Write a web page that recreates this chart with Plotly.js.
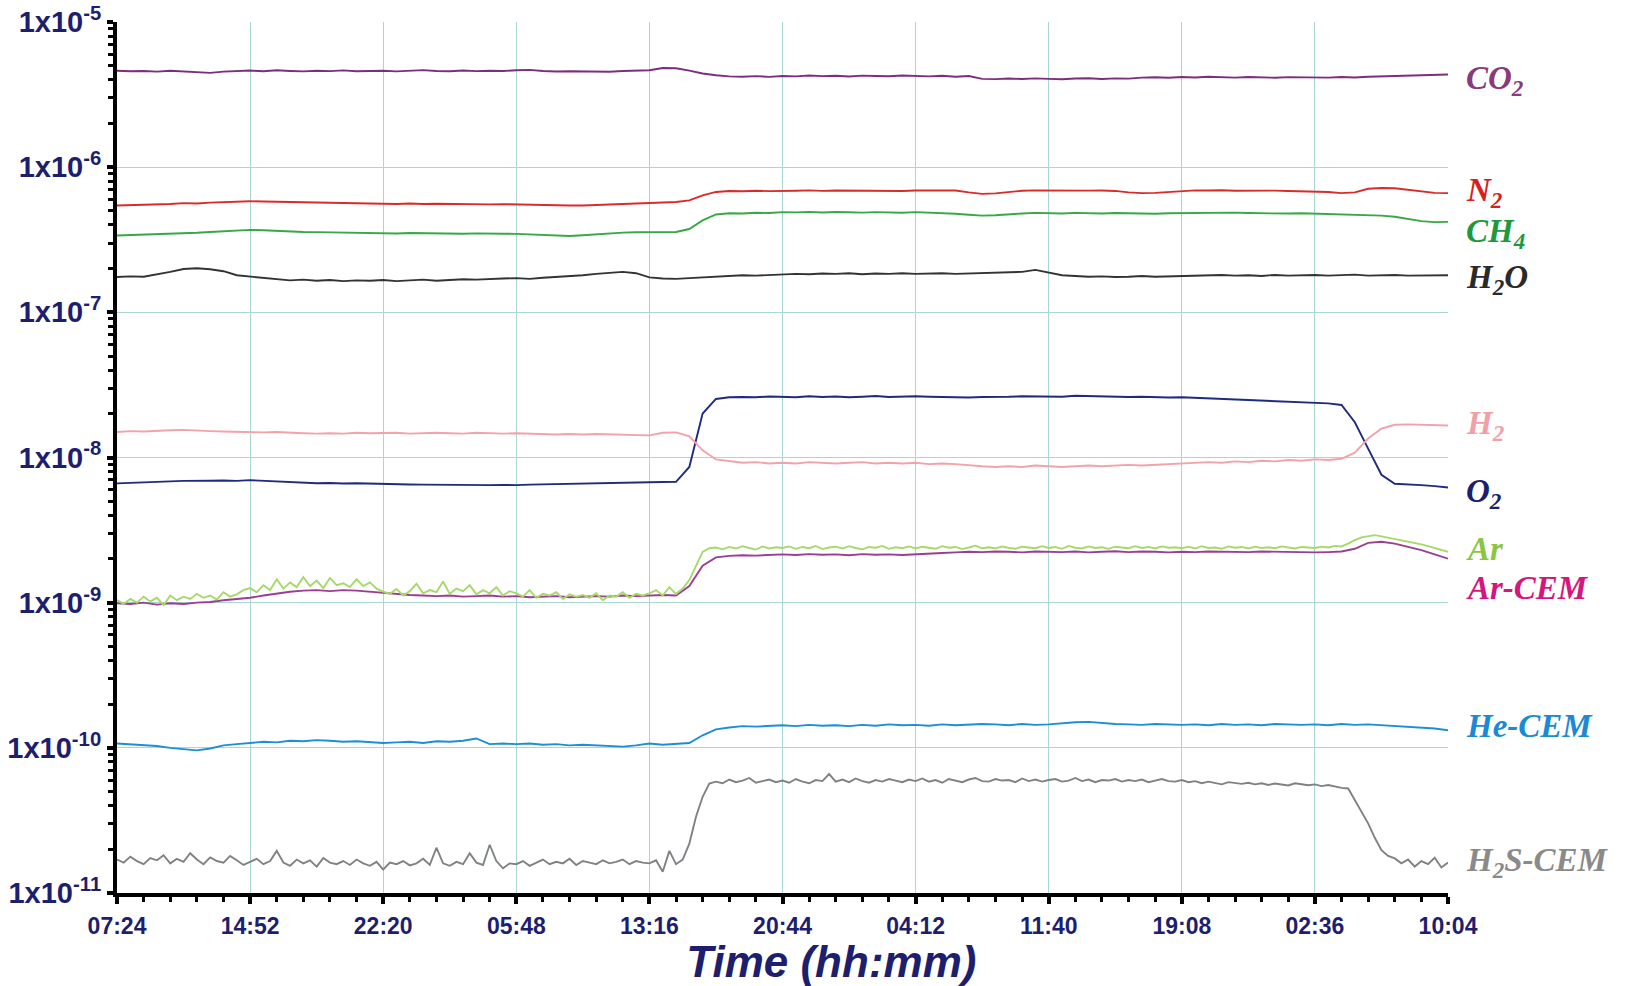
<!DOCTYPE html>
<html>
<head>
<meta charset="utf-8">
<script src="https://cdn.plot.ly/plotly-3.0.1.min.js"></script>
<style>
  html, body { margin: 0; padding: 0; background: #ffffff; }
  #chart { width: 1646px; height: 986px; }
</style>
</head>
<body>
<div id="chart"></div>
<script>
// ---------- DATA ----------
// coarse series: one sample every 44.8 min (1/10 of a 7h28m tick interval), from 07:24
// fine (noisy) series: one sample every 22.4 min
const sampleStepMin = 44.8;
const fineStepMin = 22.4;

const xTickLabels = ['07:24', '14:52', '22:20', '05:48', '13:16', '20:44', '04:12', '11:40', '19:08', '02:36', '10:04'];
const yTickVals = [1e-11, 1e-10, 1e-9, 1e-8, 1e-7, 1e-6, 1e-5];
const yTickLabels = ['1x10<sup>-11</sup>', '1x10<sup>-10</sup>', '1x10<sup>-9</sup>', '1x10<sup>-8</sup>', '1x10<sup>-7</sup>', '1x10<sup>-6</sup>', '1x10<sup>-5</sup>'];

const co2 = [
  4.62e-6,4.58e-6,4.60e-6,4.55e-6,4.61e-6,4.57e-6,4.52e-6,4.46e-6,4.55e-6,4.60e-6,
  4.63e-6,4.58e-6,4.65e-6,4.60e-6,4.57e-6,4.62e-6,4.59e-6,4.64e-6,4.58e-6,4.60e-6,
  4.62e-6,4.57e-6,4.61e-6,4.66e-6,4.60e-6,4.58e-6,4.63e-6,4.59e-6,4.62e-6,4.60e-6,
  4.65e-6,4.68e-6,4.60e-6,4.56e-6,4.58e-6,4.55e-6,4.57e-6,4.54e-6,4.60e-6,4.62e-6,
  4.65e-6,4.82e-6,4.80e-6,4.62e-6,4.42e-6,4.30e-6,4.22e-6,4.20e-6,4.24e-6,4.19e-6,
  4.25e-6,4.22e-6,4.28e-6,4.24e-6,4.26e-6,4.21e-6,4.27e-6,4.25e-6,4.23e-6,4.28e-6,
  4.24e-6,4.22e-6,4.26e-6,4.20e-6,4.25e-6,4.06e-6,4.04e-6,4.08e-6,4.05e-6,4.09e-6,
  4.06e-6,4.03e-6,4.08e-6,4.10e-6,4.05e-6,4.09e-6,4.07e-6,4.14e-6,4.16e-6,4.13e-6,
  4.18e-6,4.15e-6,4.20e-6,4.16e-6,4.14e-6,4.18e-6,4.15e-6,4.13e-6,4.17e-6,4.15e-6,
  4.16e-6,4.14e-6,4.18e-6,4.15e-6,4.20e-6,4.22e-6,4.25e-6,4.24e-6,4.28e-6,4.32e-6,
  4.35e-6];

const n2 = [
  5.45e-7,5.48e-7,5.50e-7,5.52e-7,5.58e-7,5.65e-7,5.62e-7,5.70e-7,5.75e-7,5.78e-7,
  5.83e-7,5.80e-7,5.78e-7,5.75e-7,5.72e-7,5.70e-7,5.68e-7,5.65e-7,5.63e-7,5.60e-7,
  5.60e-7,5.58e-7,5.62e-7,5.57e-7,5.60e-7,5.58e-7,5.55e-7,5.57e-7,5.54e-7,5.56e-7,
  5.53e-7,5.50e-7,5.48e-7,5.46e-7,5.45e-7,5.45e-7,5.50e-7,5.55e-7,5.60e-7,5.65e-7,
  5.72e-7,5.74e-7,5.76e-7,5.90e-7,6.40e-7,6.75e-7,6.85e-7,6.82e-7,6.88e-7,6.84e-7,
  6.90e-7,6.88e-7,6.92e-7,6.87e-7,6.91e-7,6.89e-7,6.93e-7,6.88e-7,6.90e-7,6.86e-7,
  6.91e-7,6.88e-7,6.85e-7,6.90e-7,6.70e-7,6.55e-7,6.60e-7,6.75e-7,6.88e-7,6.92e-7,
  6.90e-7,6.87e-7,6.92e-7,6.89e-7,6.90e-7,6.86e-7,6.70e-7,6.62e-7,6.65e-7,6.75e-7,
  6.88e-7,6.92e-7,6.90e-7,6.94e-7,6.88e-7,6.91e-7,6.86e-7,6.89e-7,6.85e-7,6.83e-7,
  6.80e-7,6.75e-7,6.62e-7,6.70e-7,7.10e-7,7.18e-7,7.15e-7,7.00e-7,6.80e-7,6.65e-7,
  6.62e-7];

const ch4 = [
  3.38e-7,3.40e-7,3.42e-7,3.44e-7,3.47e-7,3.51e-7,3.53e-7,3.58e-7,3.62e-7,3.66e-7,
  3.70e-7,3.68e-7,3.64e-7,3.60e-7,3.58e-7,3.57e-7,3.55e-7,3.53e-7,3.52e-7,3.51e-7,
  3.51e-7,3.49e-7,3.52e-7,3.50e-7,3.51e-7,3.49e-7,3.48e-7,3.50e-7,3.47e-7,3.48e-7,
  3.47e-7,3.45e-7,3.42e-7,3.38e-7,3.36e-7,3.40e-7,3.45e-7,3.50e-7,3.54e-7,3.56e-7,
  3.57e-7,3.57e-7,3.58e-7,3.75e-7,4.30e-7,4.72e-7,4.82e-7,4.80e-7,4.85e-7,4.83e-7,
  4.90e-7,4.88e-7,4.92e-7,4.87e-7,4.91e-7,4.89e-7,4.86e-7,4.90e-7,4.88e-7,4.85e-7,
  4.90e-7,4.87e-7,4.82e-7,4.78e-7,4.70e-7,4.64e-7,4.66e-7,4.74e-7,4.80e-7,4.84e-7,
  4.82e-7,4.80e-7,4.84e-7,4.81e-7,4.79e-7,4.83e-7,4.80e-7,4.82e-7,4.78e-7,4.81e-7,
  4.82e-7,4.85e-7,4.87e-7,4.84e-7,4.86e-7,4.83e-7,4.80e-7,4.82e-7,4.79e-7,4.81e-7,
  4.78e-7,4.76e-7,4.74e-7,4.72e-7,4.70e-7,4.64e-7,4.55e-7,4.40e-7,4.25e-7,4.18e-7,
  4.20e-7];

const h2o = [
  1.75e-7,1.77e-7,1.76e-7,1.82e-7,1.90e-7,1.99e-7,2.01e-7,1.98e-7,1.92e-7,1.80e-7,
  1.76e-7,1.73e-7,1.70e-7,1.66e-7,1.68e-7,1.65e-7,1.67e-7,1.64e-7,1.66e-7,1.65e-7,
  1.67e-7,1.64e-7,1.66e-7,1.68e-7,1.65e-7,1.67e-7,1.69e-7,1.68e-7,1.70e-7,1.71e-7,
  1.72e-7,1.70e-7,1.73e-7,1.75e-7,1.78e-7,1.80e-7,1.84e-7,1.88e-7,1.90e-7,1.86e-7,
  1.74e-7,1.71e-7,1.70e-7,1.72e-7,1.74e-7,1.76e-7,1.78e-7,1.80e-7,1.79e-7,1.81e-7,
  1.82e-7,1.84e-7,1.83e-7,1.85e-7,1.84e-7,1.86e-7,1.83e-7,1.85e-7,1.84e-7,1.86e-7,
  1.84e-7,1.85e-7,1.86e-7,1.84e-7,1.85e-7,1.87e-7,1.86e-7,1.88e-7,1.90e-7,1.96e-7,
  1.88e-7,1.80e-7,1.78e-7,1.76e-7,1.77e-7,1.75e-7,1.76e-7,1.78e-7,1.76e-7,1.77e-7,
  1.78e-7,1.80e-7,1.82e-7,1.81e-7,1.79e-7,1.80e-7,1.78e-7,1.81e-7,1.79e-7,1.80e-7,
  1.81e-7,1.79e-7,1.80e-7,1.82e-7,1.79e-7,1.80e-7,1.81e-7,1.79e-7,1.80e-7,1.79e-7,
  1.80e-7];

const h2 = [
  1.50e-8,1.52e-8,1.51e-8,1.53e-8,1.54e-8,1.55e-8,1.53e-8,1.52e-8,1.51e-8,1.50e-8,
  1.50e-8,1.49e-8,1.50e-8,1.48e-8,1.47e-8,1.46e-8,1.47e-8,1.46e-8,1.48e-8,1.47e-8,
  1.47e-8,1.48e-8,1.46e-8,1.47e-8,1.48e-8,1.47e-8,1.46e-8,1.48e-8,1.47e-8,1.46e-8,
  1.47e-8,1.46e-8,1.45e-8,1.44e-8,1.45e-8,1.44e-8,1.45e-8,1.44e-8,1.43e-8,1.42e-8,
  1.42e-8,1.48e-8,1.49e-8,1.40e-8,1.12e-8,0.97e-8,0.94e-8,0.92e-8,0.93e-8,0.91e-8,
  0.92e-8,0.91e-8,0.93e-8,0.92e-8,0.91e-8,0.92e-8,0.93e-8,0.91e-8,0.92e-8,0.91e-8,
  0.92e-8,0.90e-8,0.91e-8,0.90e-8,0.88e-8,0.87e-8,0.86e-8,0.87e-8,0.86e-8,0.88e-8,
  0.87e-8,0.86e-8,0.87e-8,0.88e-8,0.87e-8,0.88e-8,0.89e-8,0.88e-8,0.89e-8,0.90e-8,
  0.91e-8,0.92e-8,0.93e-8,0.92e-8,0.94e-8,0.93e-8,0.95e-8,0.94e-8,0.96e-8,0.95e-8,
  0.97e-8,0.96e-8,0.98e-8,1.08e-8,1.35e-8,1.58e-8,1.68e-8,1.69e-8,1.68e-8,1.67e-8,
  1.66e-8];

const o2 = [
  6.63e-9,6.70e-9,6.75e-9,6.80e-9,6.85e-9,6.90e-9,6.88e-9,6.92e-9,6.95e-9,6.90e-9,
  6.98e-9,6.92e-9,6.85e-9,6.80e-9,6.70e-9,6.65e-9,6.68e-9,6.62e-9,6.65e-9,6.60e-9,
  6.58e-9,6.55e-9,6.52e-9,6.50e-9,6.48e-9,6.45e-9,6.50e-9,6.47e-9,6.45e-9,6.48e-9,
  6.45e-9,6.50e-9,6.52e-9,6.55e-9,6.58e-9,6.60e-9,6.62e-9,6.65e-9,6.68e-9,6.70e-9,
  6.75e-9,6.78e-9,6.80e-9,8.60e-9,20.1e-9,25.3e-9,26.0e-9,26.1e-9,26.0e-9,26.3e-9,
  26.2e-9,26.0e-9,26.4e-9,26.1e-9,26.3e-9,26.0e-9,26.2e-9,26.5e-9,26.1e-9,26.3e-9,
  26.4e-9,26.2e-9,26.0e-9,25.8e-9,25.9e-9,26.1e-9,26.0e-9,26.2e-9,26.4e-9,26.3e-9,
  26.5e-9,26.2e-9,26.6e-9,26.4e-9,26.2e-9,26.3e-9,26.1e-9,26.2e-9,26.0e-9,25.9e-9,
  26.0e-9,25.8e-9,25.6e-9,25.4e-9,25.2e-9,25.0e-9,24.8e-9,24.6e-9,24.4e-9,24.2e-9,
  23.8e-9,23.6e-9,23.0e-9,17.5e-9,11.5e-9,7.60e-9,6.60e-9,6.55e-9,6.45e-9,6.35e-9,
  6.22e-9];

// fine series (22.4 min step)
const ar = [
  1.04e-9,0.98e-9,1.06e-9,1.00e-9,1.10e-9,1.02e-9,1.08e-9,0.96e-9,1.12e-9,1.04e-9,
  1.10e-9,1.06e-9,1.15e-9,1.08e-9,1.12e-9,1.05e-9,1.18e-9,1.10e-9,1.14e-9,1.22e-9,
  1.26e-9,1.18e-9,1.32e-9,1.22e-9,1.45e-9,1.25e-9,1.38e-9,1.28e-9,1.50e-9,1.30e-9,
  1.42e-9,1.26e-9,1.48e-9,1.32e-9,1.36e-9,1.28e-9,1.45e-9,1.30e-9,1.38e-9,1.25e-9,
  1.19e-9,1.15e-9,1.24e-9,1.12e-9,1.20e-9,1.35e-9,1.16e-9,1.22e-9,1.18e-9,1.40e-9,
  1.15e-9,1.25e-9,1.20e-9,1.32e-9,1.14e-9,1.22e-9,1.16e-9,1.28e-9,1.12e-9,1.20e-9,
  1.16e-9,1.10e-9,1.22e-9,1.08e-9,1.15e-9,1.12e-9,1.18e-9,1.06e-9,1.14e-9,1.10e-9,
  1.13e-9,1.08e-9,1.16e-9,1.04e-9,1.12e-9,1.10e-9,1.18e-9,1.08e-9,1.15e-9,1.12e-9,
  1.16e-9,1.22e-9,1.12e-9,1.28e-9,1.15e-9,1.25e-9,1.43e-9,1.77e-9,2.24e-9,2.37e-9,
  2.40e-9,2.33e-9,2.42e-9,2.36e-9,2.45e-9,2.38e-9,2.32e-9,2.44e-9,2.36e-9,2.41e-9,
  2.38e-9,2.44e-9,2.35e-9,2.42e-9,2.37e-9,2.46e-9,2.34e-9,2.40e-9,2.43e-9,2.36e-9,
  2.45e-9,2.38e-9,2.33e-9,2.42e-9,2.39e-9,2.46e-9,2.35e-9,2.41e-9,2.37e-9,2.44e-9,
  2.36e-9,2.43e-9,2.38e-9,2.35e-9,2.45e-9,2.39e-9,2.42e-9,2.34e-9,2.40e-9,2.47e-9,
  2.37e-9,2.41e-9,2.36e-9,2.44e-9,2.38e-9,2.35e-9,2.43e-9,2.40e-9,2.37e-9,2.45e-9,
  2.38e-9,2.42e-9,2.35e-9,2.46e-9,2.39e-9,2.36e-9,2.44e-9,2.38e-9,2.41e-9,2.35e-9,
  2.43e-9,2.40e-9,2.37e-9,2.45e-9,2.38e-9,2.42e-9,2.36e-9,2.44e-9,2.39e-9,2.41e-9,
  2.37e-9,2.43e-9,2.36e-9,2.45e-9,2.38e-9,2.40e-9,2.35e-9,2.44e-9,2.39e-9,2.42e-9,
  2.36e-9,2.43e-9,2.38e-9,2.41e-9,2.37e-9,2.44e-9,2.39e-9,2.36e-9,2.42e-9,2.40e-9,
  2.38e-9,2.43e-9,2.40e-9,2.46e-9,2.44e-9,2.55e-9,2.70e-9,2.82e-9,2.88e-9,2.92e-9,
  2.86e-9,2.80e-9,2.76e-9,2.70e-9,2.64e-9,2.58e-9,2.52e-9,2.45e-9,2.38e-9,2.30e-9,
  2.24e-9];

const arCem = [
  0.99e-9,0.98e-9,1.00e-9,0.97e-9,0.99e-9,0.98e-9,1.00e-9,1.01e-9,1.04e-9,1.06e-9,
  1.08e-9,1.12e-9,1.16e-9,1.19e-9,1.21e-9,1.22e-9,1.20e-9,1.22e-9,1.21e-9,1.19e-9,
  1.16e-9,1.14e-9,1.13e-9,1.12e-9,1.11e-9,1.12e-9,1.10e-9,1.11e-9,1.12e-9,1.10e-9,
  1.11e-9,1.09e-9,1.10e-9,1.11e-9,1.09e-9,1.10e-9,1.11e-9,1.10e-9,1.12e-9,1.11e-9,
  1.12e-9,1.13e-9,1.12e-9,1.30e-9,1.80e-9,2.05e-9,2.10e-9,2.12e-9,2.11e-9,2.13e-9,
  2.15e-9,2.13e-9,2.16e-9,2.14e-9,2.15e-9,2.12e-9,2.16e-9,2.14e-9,2.15e-9,2.13e-9,
  2.16e-9,2.18e-9,2.20e-9,2.22e-9,2.24e-9,2.23e-9,2.25e-9,2.24e-9,2.22e-9,2.25e-9,
  2.24e-9,2.23e-9,2.25e-9,2.22e-9,2.24e-9,2.26e-9,2.23e-9,2.25e-9,2.24e-9,2.22e-9,
  2.24e-9,2.23e-9,2.25e-9,2.24e-9,2.22e-9,2.23e-9,2.25e-9,2.24e-9,2.23e-9,2.24e-9,
  2.22e-9,2.23e-9,2.25e-9,2.35e-9,2.58e-9,2.63e-9,2.55e-9,2.42e-9,2.30e-9,2.15e-9,
  2.01e-9];

const heCem = [
  1.07e-10,1.06e-10,1.05e-10,1.03e-10,1.00e-10,0.98e-10,0.96e-10,0.99e-10,1.04e-10,1.06e-10,
  1.08e-10,1.10e-10,1.09e-10,1.12e-10,1.11e-10,1.13e-10,1.12e-10,1.10e-10,1.11e-10,1.09e-10,
  1.08e-10,1.09e-10,1.10e-10,1.08e-10,1.11e-10,1.10e-10,1.12e-10,1.16e-10,1.06e-10,1.07e-10,
  1.06e-10,1.07e-10,1.05e-10,1.06e-10,1.04e-10,1.05e-10,1.04e-10,1.03e-10,1.02e-10,1.04e-10,
  1.07e-10,1.05e-10,1.06e-10,1.08e-10,1.22e-10,1.34e-10,1.38e-10,1.41e-10,1.40e-10,1.42e-10,
  1.43e-10,1.41e-10,1.44e-10,1.42e-10,1.43e-10,1.41e-10,1.44e-10,1.42e-10,1.45e-10,1.43e-10,
  1.44e-10,1.42e-10,1.45e-10,1.43e-10,1.44e-10,1.46e-10,1.45e-10,1.43e-10,1.46e-10,1.44e-10,
  1.45e-10,1.48e-10,1.50e-10,1.51e-10,1.48e-10,1.46e-10,1.45e-10,1.44e-10,1.46e-10,1.45e-10,
  1.44e-10,1.45e-10,1.43e-10,1.46e-10,1.44e-10,1.45e-10,1.43e-10,1.46e-10,1.45e-10,1.44e-10,
  1.45e-10,1.43e-10,1.46e-10,1.44e-10,1.45e-10,1.43e-10,1.41e-10,1.40e-10,1.38e-10,1.36e-10,
  1.32e-10];

// fine series (22.4 min step)
const h2sCem = [
  1.70e-11,1.62e-11,1.78e-11,1.66e-11,1.58e-11,1.74e-11,1.68e-11,1.82e-11,1.60e-11,1.72e-11,
  1.64e-11,1.88e-11,1.70e-11,1.58e-11,1.76e-11,1.66e-11,1.62e-11,1.80e-11,1.68e-11,1.56e-11,
  1.64e-11,1.72e-11,1.58e-11,1.66e-11,1.95e-11,1.62e-11,1.54e-11,1.70e-11,1.60e-11,1.68e-11,
  1.52e-11,1.74e-11,1.62e-11,1.58e-11,1.66e-11,1.56e-11,1.70e-11,1.60e-11,1.54e-11,1.64e-11,
  1.45e-11,1.62e-11,1.58e-11,1.66e-11,1.55e-11,1.60e-11,1.72e-11,1.56e-11,2.05e-11,1.60e-11,
  1.54e-11,1.64e-11,1.58e-11,1.88e-11,1.62e-11,1.56e-11,2.15e-11,1.66e-11,1.48e-11,1.60e-11,
  1.58e-11,1.66e-11,1.54e-11,1.62e-11,1.70e-11,1.58e-11,1.64e-11,1.60e-11,1.72e-11,1.56e-11,
  1.66e-11,1.62e-11,1.58e-11,1.68e-11,1.60e-11,1.64e-11,1.70e-11,1.58e-11,1.66e-11,1.62e-11,
  1.60e-11,1.68e-11,1.40e-11,1.95e-11,1.58e-11,1.70e-11,2.19e-11,3.35e-11,4.60e-11,5.68e-11,
  5.85e-11,5.70e-11,6.05e-11,5.80e-11,5.95e-11,6.20e-11,5.75e-11,5.90e-11,6.05e-11,5.80e-11,
  5.95e-11,5.75e-11,6.10e-11,5.85e-11,5.70e-11,6.00e-11,5.90e-11,6.60e-11,5.85e-11,6.05e-11,
  5.80e-11,6.15e-11,5.90e-11,5.75e-11,6.00e-11,5.85e-11,6.10e-11,5.95e-11,5.80e-11,6.05e-11,
  5.90e-11,6.15e-11,5.85e-11,6.00e-11,5.75e-11,6.10e-11,5.95e-11,5.80e-11,6.05e-11,6.20e-11,
  5.90e-11,5.85e-11,6.10e-11,5.95e-11,6.00e-11,5.80e-11,6.15e-11,5.90e-11,6.05e-11,5.85e-11,
  6.00e-11,6.10e-11,5.85e-11,5.95e-11,6.20e-11,5.90e-11,6.05e-11,5.80e-11,6.00e-11,5.95e-11,
  6.10e-11,5.85e-11,6.00e-11,5.90e-11,6.05e-11,5.80e-11,5.95e-11,6.10e-11,5.90e-11,5.85e-11,
  6.00e-11,5.80e-11,5.90e-11,5.70e-11,5.85e-11,5.75e-11,5.60e-11,5.80e-11,5.70e-11,5.65e-11,
  5.75e-11,5.60e-11,5.70e-11,5.55e-11,5.68e-11,5.62e-11,5.50e-11,5.70e-11,5.58e-11,5.52e-11,
  5.60e-11,5.45e-11,5.55e-11,5.40e-11,5.30e-11,5.25e-11,4.36e-11,3.60e-11,3.02e-11,2.40e-11,
  1.97e-11,1.80e-11,1.73e-11,1.60e-11,1.70e-11,1.52e-11,1.66e-11,1.58e-11,1.75e-11,1.50e-11,
  1.62e-11];

// ---------- SERIES STYLING ----------
const series = [
  {name: 'H<sub>2</sub>S-CEM', y: h2sCem, step: fineStepMin,   line: '#7f8285', label: '#8a8a8a', yshift: 0},
  {name: 'He-CEM',            y: heCem,  step: sampleStepMin, line: '#1b8fd6', label: '#1a8ad4', yshift: 4},
  {name: 'Ar-CEM',            y: arCem,  step: sampleStepMin, line: '#9b3d94', label: '#d4177c', yshift: -29},
  {name: 'Ar',                y: ar,     step: fineStepMin,   line: '#a6d86a', label: '#8cc63f', yshift: 3},
  {name: 'O<sub>2</sub>',     y: o2,     step: sampleStepMin, line: '#1f2b7d', label: '#1a1f6e', yshift: -6},
  {name: 'H<sub>2</sub>',     y: h2,     step: sampleStepMin, line: '#f3a2aa', label: '#f2a0a8', yshift: 0},
  {name: 'H<sub>2</sub>O',    y: h2o,    step: sampleStepMin, line: '#333333', label: '#2a2a2a', yshift: -4},
  {name: 'CH<sub>4</sub>',    y: ch4,    step: sampleStepMin, line: '#38a845', label: '#1e9a3c', yshift: -12},
  {name: 'N<sub>2</sub>',     y: n2,     step: sampleStepMin, line: '#d92b2b', label: '#d61f1f', yshift: 1},
  {name: 'CO<sub>2</sub>',    y: co2,    step: sampleStepMin, line: '#7c2d7c', label: '#8a3a7c', yshift: -6}
];

const xTickVals = xTickLabels.map((_, i) => i * 448);

const traces = series.map(s => ({
  type: 'scatter',
  mode: 'lines',
  x: s.y.map((_, i) => i * s.step),
  y: s.y,
  name: s.name,
  line: {color: s.line, width: 1.9},
  hoverinfo: 'skip'
}));

const annotations = series.map(s => ({
  xref: 'paper', yref: 'y',
  x: 1, y: Math.log10(s.y[s.y.length - 1]),
  xanchor: 'left', yanchor: 'middle',
  xshift: 16, yshift: s.yshift,
  showarrow: false,
  text: s.name,
  font: {family: 'Liberation Serif, Times New Roman, serif', size: 33, weight: 'bold', style: 'italic', color: s.label}
}));

// minor log ticks (2..9 in each decade)
const yMinor = [];
for (let e = -11; e < -5; e++) for (let m = 2; m <= 9; m++) yMinor.push(m * Math.pow(10, e));

const navy = '#1e1e6e';
const gridCol = '#a9d8d4';

const layout = {
  width: 1646, height: 986,
  paper_bgcolor: '#ffffff', plot_bgcolor: '#ffffff',
  showlegend: false,
  margin: {l: 117, r: 198, t: 22, b: 93},
  xaxis: {
    range: [0, 4480],
    tickmode: 'array', tickvals: xTickVals, ticktext: xTickLabels,
    showgrid: true, gridcolor: gridCol, gridwidth: 1,
    zeroline: false,
    showline: true, linecolor: '#000000', linewidth: 4,
    ticks: 'outside', ticklen: 7, tickwidth: 4, tickcolor: '#000000',
    minor: {tickmode: 'linear', tick0: 0, dtick: 89.6, ticks: 'outside', ticklen: 5, tickwidth: 3, tickcolor: '#000000', showgrid: false},
    tickfont: {family: 'Liberation Sans, Arial, sans-serif', size: 23, weight: 'bold', color: navy},
    ticklabelstandoff: 2,
    title: {text: '\u200b\u00a0\u00a0\u00a0\u00a0\u00a0\u00a0\u00a0\u00a0Time (hh:mm)', standoff: 14,
            font: {family: 'Liberation Sans, Arial, sans-serif', size: 44, weight: 'bold', style: 'italic', color: navy}},
    automargin: false
  },
  yaxis: {
    type: 'log',
    range: [-11, -5],
    tickmode: 'array', tickvals: yTickVals, ticktext: yTickLabels,
    showgrid: true, gridcolor: gridCol, gridwidth: 1,
    zeroline: false,
    showline: true, linecolor: '#000000', linewidth: 4,
    ticks: 'outside', ticklen: 6, tickwidth: 4, tickcolor: '#000000',
    minor: {tickmode: 'array', tickvals: yMinor, ticks: 'outside', ticklen: 5, tickwidth: 3, tickcolor: '#000000', showgrid: false},
    tickfont: {family: 'Liberation Sans, Arial, sans-serif', size: 29, weight: 'bold', color: navy},
    automargin: false
  },
  annotations: annotations
};

Plotly.newPlot('chart', traces, layout, {displayModeBar: false, staticPlot: true});
</script>
</body>
</html>
